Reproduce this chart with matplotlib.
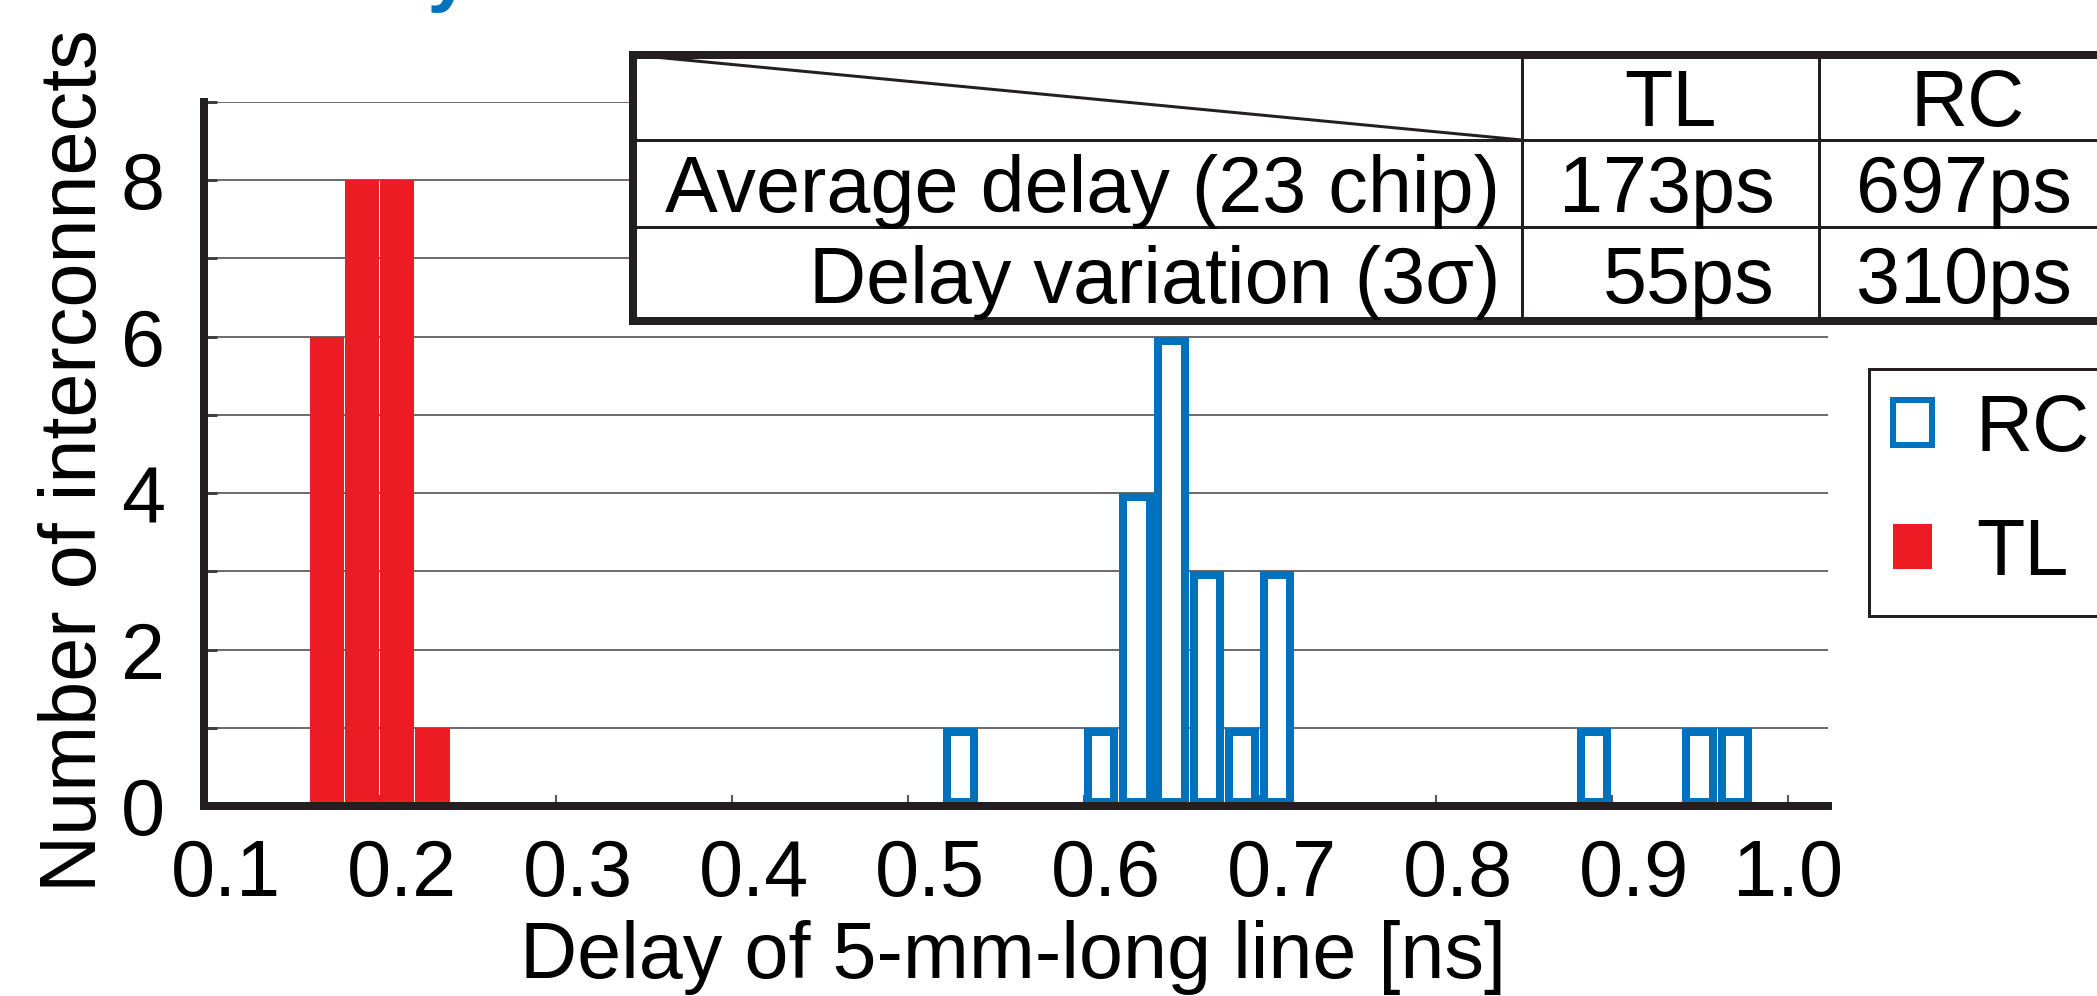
import matplotlib
matplotlib.use('Agg')
import matplotlib.pyplot as plt
from matplotlib.patches import Patch
from matplotlib.transforms import ScaledTranslation

plt.rcParams['font.family'] = ['Liberation Sans', 'DejaVu Sans']

# Histogram data (bin left edge [ns] and number of interconnects)
tl_bins = [0.16, 0.18, 0.20, 0.22]
tl_counts = [6, 8, 8, 1]
rc_bins = [0.52, 0.60, 0.62, 0.64, 0.66, 0.68, 0.70, 0.88, 0.94, 0.96]
rc_counts = [1, 1, 4, 6, 3, 1, 3, 1, 1, 1]
bin_width = 0.0195

x_ticks = [0.1, 0.2, 0.3, 0.4, 0.5, 0.6, 0.7, 0.8, 0.9, 1.0]
x_ticklabels = ['0.1', '0.2', '0.3', '0.4', '0.5', '0.6', '0.7', '0.8', '0.9', '1.0']
y_ticks = [0, 1, 2, 3, 4, 5, 6, 7, 8, 9]
y_ticklabels = ['0', '', '2', '', '4', '', '6', '', '8', '']

# Summary table
table_cols = ['TL', 'RC']
table_rows = ['Average delay (23 chip)', 'Delay variation (3σ)']
table_vals = [['173ps', '697ps'],
              ['55ps', '310ps']]

red = '#ED1C24'
blue = '#0071BC'
dark = '#231F20'
fs = 57
PX = 0.72  # points per pixel at dpi 100

W, H = 2097, 996
fig = plt.figure(figsize=(W / 100, H / 100), dpi=100)

# heading cut off by the top edge (only the tail of the "y" shows)
fig.text(472 / W, 1 + 4 / H, 'Delay', color=blue, fontsize=fs, fontweight='bold',
         ha='right', va='baseline')

ax = fig.add_axes([204 / W, 190 / H, 1624 / W, 704 / H])
ax.bar(tl_bins, tl_counts, width=bin_width, align='edge', color=red, lw=0, zorder=2)
rc = ax.bar(rc_bins, rc_counts, width=bin_width, align='edge', facecolor='white',
            edgecolor=blue, lw=16 * PX, zorder=2)
for p in rc:
    p.set_clip_path(p)  # keep the thick outline inside each bar

ax.set_xlim(0.1, 1.0227)
ax.set_ylim(0, 9)
ax.set_axisbelow(True)
ax.yaxis.grid(True, color='#505050', lw=1.2)
for s in ['top', 'right']:
    ax.spines[s].set_visible(False)
for s in ['left', 'bottom']:
    ax.spines[s].set_linewidth(8 * PX)
    ax.spines[s].set_color(dark)

ax.set_xticks(x_ticks)
ax.set_xticklabels(x_ticklabels)
ax.set_yticks(y_ticks)
ax.set_yticklabels(y_ticklabels)
ax.tick_params(axis='x', direction='in', length=11 * PX, width=1.5 * PX, color=dark,
               pad=23, labelsize=fs)
ax.tick_params(axis='y', direction='in', length=13 * PX, width=3 * PX, color='#404040',
               pad=28, labelsize=fs)

ax.set_xlabel('Delay of 5-mm-long line [ns]', fontsize=fs)
ax.set_ylabel('Number of interconnects', fontsize=fs)
ax.xaxis.set_label_coords(0.498, -0.162)
ax.yaxis.set_label_coords(-0.056, 0.49)

# labels sit a little right of their ticks in the original
for lbl in ax.get_xticklabels()[:-1]:
    lbl.set_transform(lbl.get_transform() + ScaledTranslation(0.22, 0, fig.dpi_scale_trans))

# legend
handles = [Patch(facecolor='white', edgecolor=blue, lw=6 * PX, label='RC'),
           Patch(facecolor=red, lw=0, label='TL')]
leg = fig.legend(handles=handles, loc='upper left', bbox_to_anchor=(1869 / W, 1 - 369 / H),
                 bbox_transform=fig.transFigure, fontsize=fs, fancybox=False,
                 edgecolor=dark, framealpha=1, handlelength=0.5, handleheight=0.5,
                 handletextpad=0.55, borderpad=0.3, labelspacing=0.62, borderaxespad=0)
leg.get_frame().set_linewidth(3 * PX)

# table (in pixel units)
tw, th = 1483, 266
row_edges = [0, 85, 172, th]
col_edges = [0, 889, 1186, tw]
tab = fig.add_axes([633 / W, (H - 321) / H, tw / W, th / H])
tab.set_xlim(0, tw)
tab.set_ylim(th, 0)
tab.set_xticks([])
tab.set_yticks([])
tab.spines['right'].set_visible(False)
for s in ['top', 'left', 'bottom']:
    tab.spines[s].set_linewidth(8 * PX)
    tab.spines[s].set_color(dark)
for y in row_edges[1:-1]:
    tab.axhline(y, color=dark, lw=3 * PX)
for x in col_edges[1:-1]:
    tab.axvline(x, color=dark, lw=3 * PX)
tab.plot([col_edges[0], col_edges[1]], [row_edges[0], row_edges[1]], color=dark, lw=3 * PX)

cap = 0.36 * fs / PX
for j, name in enumerate(table_cols):
    xc = (col_edges[j + 1] + col_edges[j + 2]) / 2
    yb = (row_edges[0] + row_edges[1]) / 2 + cap
    tab.text(xc, yb, name, fontsize=fs, ha='center', va='baseline')
for i, name in enumerate(table_rows):
    yb = (row_edges[i + 1] + row_edges[i + 2]) / 2 + cap
    tab.text(col_edges[1] - 22, yb, name, fontsize=fs, ha='right', va='baseline')
    for j, val in enumerate(table_vals[i]):
        tab.text(col_edges[j + 2] - 44, yb, val, fontsize=fs, ha='right', va='baseline')

fig.savefig('out.png', dpi=100)
